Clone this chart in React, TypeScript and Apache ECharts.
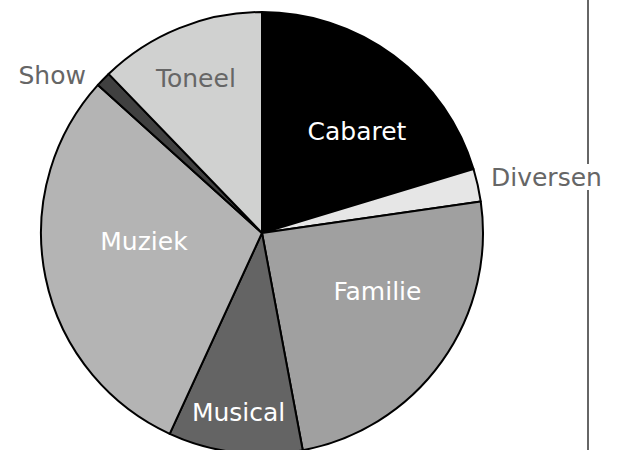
import React, { useEffect, useRef } from "react";
import * as echarts from "echarts";

const categories = ["Cabaret", "Diversen", "Familie", "Musical", "Muziek", "Show", "Toneel"];
const values = [20.3, 2.4, 24.3, 9.8, 29.8, 1.1, 12.2];

const sliceColors = ["#000000", "#e6e6e6", "#a0a0a0", "#646464", "#b4b4b4", "#404040", "#d0d1d0"];
const labelColors = ["#ffffff", "#666666", "#ffffff", "#ffffff", "#ffffff", "#666666", "#666666"];
// label placement: [radius px, angle deg clockwise from 12 o'clock, align]
const labelPolar: [number, number, string][] = [
  [138.7, 43.2, "center"],
  [235.7, 76.3, "left"],
  [129.2, 116.7, "center"],
  [181.5, 187.4, "center"],
  [118.3, 266.1, "center"],
  [236.5, 311.9, "right"],
  [168.5, 336.9, "center"],
];

const CX = 262;
const CY = 233;
const R = 221;
const FONT = '"DejaVu Sans", sans-serif';

export default function App() {
  const ref = useRef<HTMLDivElement>(null);
  useEffect(() => {
    document.body.style.margin = "0";
    const chart = echarts.init(ref.current!, undefined, { renderer: "svg" });
    chart.setOption({
      animation: false,
      backgroundColor: "#ffffff",
      graphic: [
        { type: "line", shape: { x1: 588, y1: 0, x2: 588, y2: 164 }, style: { stroke: "#666666", lineWidth: 2 } },
        { type: "line", shape: { x1: 588, y1: 190, x2: 588, y2: 450 }, style: { stroke: "#666666", lineWidth: 2 } },
      ],
      series: [
        {
          type: "pie",
          center: [CX, CY],
          radius: [0, R],
          startAngle: 90,
          clockwise: true,
          avoidLabelOverlap: false,
          itemStyle: { borderColor: "#000000", borderWidth: 2 },
          label: {
            show: true,
            position: "inside",
            fontFamily: FONT,
            fontSize: 25,
            formatter: "{b}",
          },
          labelLine: { show: false },
          labelLayout: (p: any) => {
            const [r, a, align] = labelPolar[p.dataIndex];
            const rad = (a * Math.PI) / 180;
            return {
              x: CX + r * Math.sin(rad),
              y: CY - r * Math.cos(rad),
              align,
              verticalAlign: "middle",
            };
          },
          data: categories.map((c, i) => ({
            name: c,
            value: values[i],
            itemStyle: { color: sliceColors[i] },
            label: { color: labelColors[i] },
          })),
        },
      ],
    });
    return () => chart.dispose();
  }, []);
  return <div ref={ref} style={{ width: 617, height: 450 }} />;
}
